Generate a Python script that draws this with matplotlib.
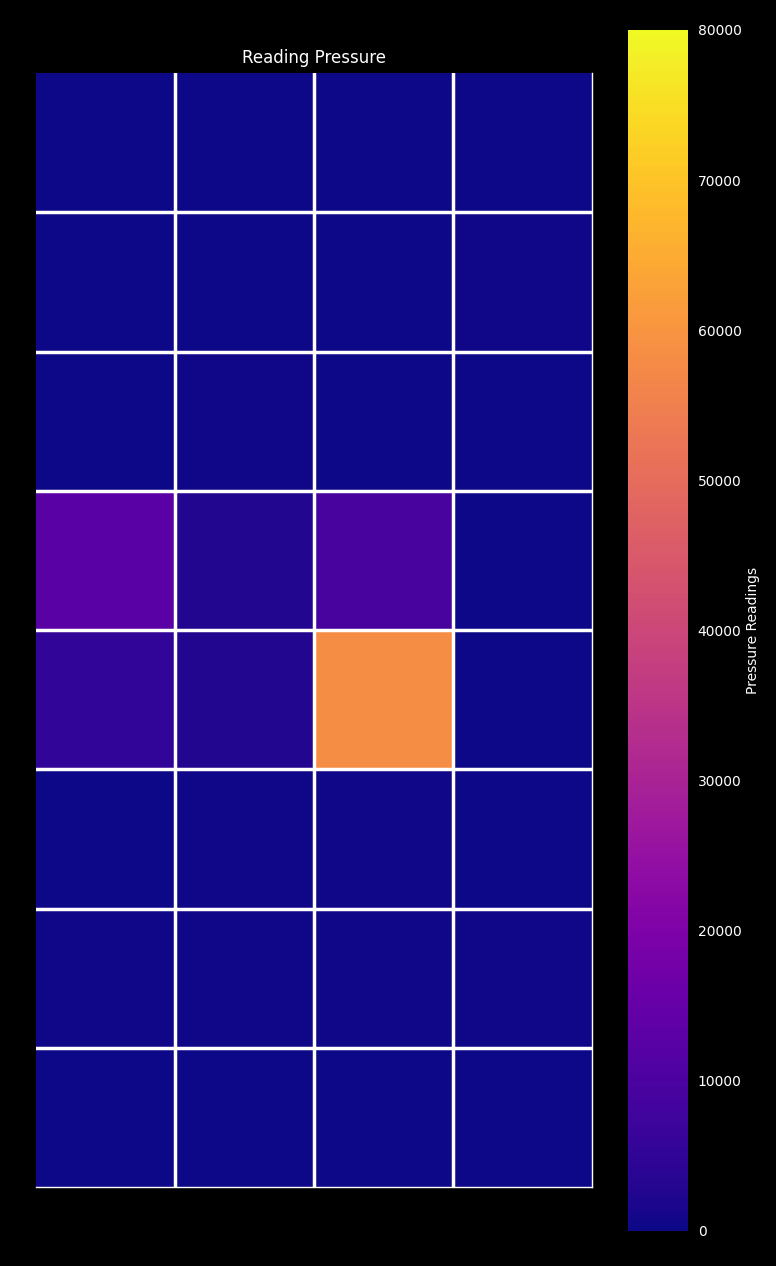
import numpy as np
import matplotlib
matplotlib.use('Agg')
import matplotlib.pyplot as plt

# pressure readings, 8 rows x 4 columns (top row first)
row1 = [250, 200, 220, 300]
row2 = [220, 300, 250, 350]
row3 = [200, 400, 300, 300]
row4 = [12500, 2600, 9300, 250]
row5 = [5200, 2600, 58300, 200]
row6 = [300, 350, 400, 300]
row7 = [350, 400, 380, 320]
row8 = [250, 300, 280, 250]

title = 'Reading Pressure'
cbar_label = 'Pressure Readings'
vmin, vmax = 0, 80000

data = np.array([row1, row2, row3, row4, row5, row6, row7, row8])
nrows, ncols = data.shape

plt.rcParams['font.family'] = 'DejaVu Sans'
fig = plt.figure(figsize=(7.76, 12.66), dpi=100, facecolor='black')

W, H = 776, 1266
ax = fig.add_axes([36 / W, (H - 1187) / H, 556 / W, 1114 / H])
cax = fig.add_axes([628 / W, (H - 1231) / H, 60 / W, 1201 / H])

ax.set_facecolor('black')
mesh = ax.pcolormesh(data, cmap='plasma', vmin=vmin, vmax=vmax)
# white separators between cells only
for i in range(1, nrows):
    ax.axhline(i, color='white', linewidth=2.5)
for j in range(1, ncols):
    ax.axvline(j, color='white', linewidth=2.5)
ax.set_xlim(0, ncols)
ax.set_ylim(nrows, 0)
ax.set_xticks([])
ax.set_yticks([])
for side in ['left', 'top']:
    ax.spines[side].set_visible(False)
for side in ['right', 'bottom']:
    ax.spines[side].set_color('white')
    ax.spines[side].set_linewidth(1)
ax.set_title(title, color='white', fontsize=12, pad=7)

cb = fig.colorbar(mesh, cax=cax)
cb.outline.set_visible(False)
cb.set_ticks(np.arange(0, 80001, 10000))
cax.tick_params(colors='white', length=0, labelsize=10, pad=7)
cb.set_label(cbar_label, color='white', fontsize=10, labelpad=3)

fig.savefig('out.png', dpi=100, facecolor='black')
